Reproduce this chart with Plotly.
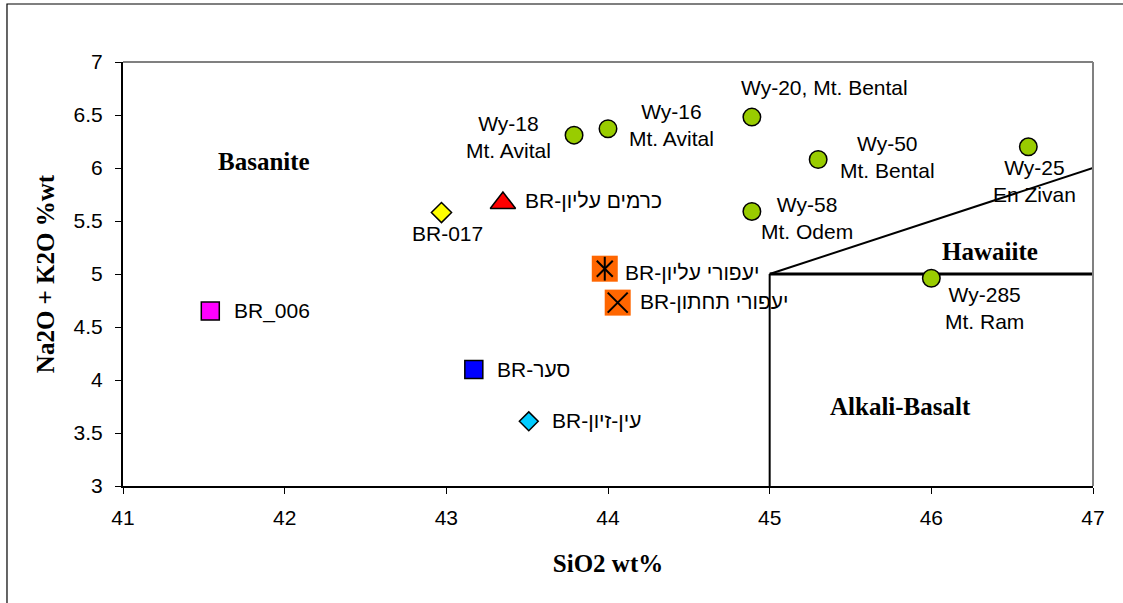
import plotly.graph_objects as go

# ---------------- data ----------------
wy_labels = ["Wy-18<br>Mt. Avital", "Wy-16<br>Mt. Avital", "Wy-20, Mt. Bental",
             "Wy-50<br>Mt. Bental", "Wy-58<br>Mt. Odem", "Wy-25<br>En Zivan",
             "Wy-285<br>Mt. Ram"]
wy_sio2 = [43.79, 44.00, 44.89, 45.30, 44.89, 46.60, 46.00]
wy_alk = [6.31, 6.37, 6.48, 6.08, 5.59, 6.20, 4.96]

br_labels = ["BR_006", "BR-017", "BR-כרמים עליון", "BR-יעפורי עליון",
             "BR-יעפורי תחתון", "BR-סער", "BR-עין-זיון"]
br_sio2 = [41.54, 42.97, 43.35, 43.98, 44.06, 43.17, 43.51]
br_alk = [4.65, 5.58, 5.67, 5.05, 4.73, 4.10, 3.61]

# field boundaries
bound_vert_x = [45, 45]
bound_vert_y = [3, 5]
bound_hor_x = [45, 47]
bound_hor_y = [5, 5]
bound_diag_x = [45, 47]
bound_diag_y = [5, 6.0]

field_names = ["Basanite", "Hawaiite", "Alkali-Basalt"]
field_x = [41.87, 46.36, 45.81]
field_y = [6.06, 5.21, 3.75]

x_range = [41, 47]
y_range = [3, 7]

# ---------------- styles ----------------
br_colors = ["#FF00FF", "#FFFF00", "#FF0000", "#FF6600", "#FF6600", "#0000FF", "#00CCFF"]
br_symbols = ["square", "diamond", "triangle-up", "square", "square", "square", "diamond"]
br_sizes = [18, 15.5, 22, 26, 26, 18, 14.5]
br_lw = [1.5, 1.5, 1.5, 0, 0, 1.5, 1.5]
# label offsets (px): (xanchor, xshift, yshift)
br_off = [("left", 22, 0), ("center", 6, -21), ("left", 20, 2), ("left", 18, -4),
          ("left", 20, 1), ("left", 21, 0), ("left", 21, 1)]
wy_off = [(-66, -2), (63, 4), (73, 30), (69, 3), (55, -7), (6, -34), (53, -30)]

SANS = "Liberation Sans, Arial, sans-serif"
SERIF = "Liberation Serif, Times New Roman, serif"

fig = go.Figure()

# boundary lines
for bx, by, w in [(bound_vert_x, bound_vert_y, 2), (bound_hor_x, bound_hor_y, 3),
                  (bound_diag_x, bound_diag_y, 2)]:
    fig.add_trace(go.Scatter(x=bx, y=by, mode="lines", line=dict(color="black", width=w),
                             showlegend=False, hoverinfo="skip", cliponaxis=False))

# Wy samples
fig.add_trace(go.Scatter(x=wy_sio2, y=wy_alk, mode="markers", showlegend=False,
                         marker=dict(symbol="circle", size=17.5, color="#99CC00", opacity=1,
                                     line=dict(color="black", width=1.5)),
                         cliponaxis=False))

# BR samples
fig.add_trace(go.Scatter(x=br_sio2, y=br_alk, mode="markers", showlegend=False,
                         marker=dict(symbol=br_symbols, size=br_sizes, color=br_colors, opacity=1,
                                     line=dict(color="black", width=br_lw)),
                         cliponaxis=False))
# star overlay on sample 3, x overlay on samples 3 and 4
fig.add_trace(go.Scatter(x=[br_sio2[3]], y=[br_alk[3]], mode="markers", showlegend=False,
                         marker=dict(symbol="line-ns-open", size=17, color="black", opacity=1,
                                     line=dict(color="black", width=2)),
                         cliponaxis=False))
fig.add_trace(go.Scatter(x=[br_sio2[3]], y=[br_alk[3]], mode="markers", showlegend=False,
                         marker=dict(symbol="x-thin-open", size=16, color="black", opacity=1,
                                     line=dict(color="black", width=2)),
                         cliponaxis=False))
fig.add_trace(go.Scatter(x=[br_sio2[4]], y=[br_alk[4]], mode="markers", showlegend=False,
                         marker=dict(symbol="x-thin-open", size=20, color="black", opacity=1,
                                     line=dict(color="black", width=2)),
                         cliponaxis=False))

annotations = []
for lab, x, y, (xa, xs, ys) in zip(br_labels, br_sio2, br_alk, br_off):
    annotations.append(dict(x=x, y=y, text=lab, showarrow=False, xanchor=xa, yanchor="middle",
                            xshift=xs, yshift=ys, font=dict(family=SANS, size=21, color="black")))
for lab, x, y, (xs, ys) in zip(wy_labels, wy_sio2, wy_alk, wy_off):
    annotations.append(dict(x=x, y=y, text=lab, showarrow=False, xanchor="center", yanchor="middle",
                            xshift=xs, yshift=ys, align="center",
                            font=dict(family=SANS, size=21, color="black")))
for lab, x, y in zip(field_names, field_x, field_y):
    annotations.append(dict(x=x, y=y, text="<b>" + lab + "</b>", showarrow=False,
                            xanchor="center", yanchor="middle",
                            font=dict(family=SERIF, size=25, color="black")))

shapes = [
    # plot area grey border (top, right)
    dict(type="line", xref="paper", yref="paper", x0=0, x1=1, y0=1, y1=1,
         line=dict(color="#808080", width=2)),
    dict(type="line", xref="paper", yref="paper", x0=1, x1=1, y0=0, y1=1,
         line=dict(color="#808080", width=2)),
    # outer chart frame
    dict(type="rect", xref="paper", yref="paper", x0=-0.1196, x1=1.2, y0=-0.4, y1=1.1368,
         line=dict(color="black", width=1.2), layer="below"),
]

fig.update_layout(
    width=1123, height=603,
    margin=dict(l=123, r=30, t=62, b=117),
    paper_bgcolor="white", plot_bgcolor="white",
    showlegend=False,
    annotations=annotations,
    shapes=shapes,
    xaxis=dict(range=x_range, dtick=1, tick0=41, showgrid=False, zeroline=False,
               showline=True, linecolor="black", linewidth=2,
               ticks="outside", ticklen=6, tickwidth=1, tickcolor="black",
               ticklabelstandoff=6,
               tickfont=dict(family=SANS, size=21, color="black"),
               title=dict(text="<b>SiO2 wt%</b>", standoff=26,
                          font=dict(family=SERIF, size=25, color="black"))),
    yaxis=dict(range=y_range, dtick=0.5, tick0=3, showgrid=False, zeroline=False,
               showline=True, linecolor="black", linewidth=2,
               ticks="outside", ticklen=6, tickwidth=1, tickcolor="black",
               ticklabelstandoff=8,
               tickfont=dict(family=SANS, size=21, color="black"),
               title=dict(text="<b>Na2O + K2O %wt</b>", standoff=12,
                          font=dict(family=SERIF, size=25, color="black"))),
)

fig.write_html("out.html")
